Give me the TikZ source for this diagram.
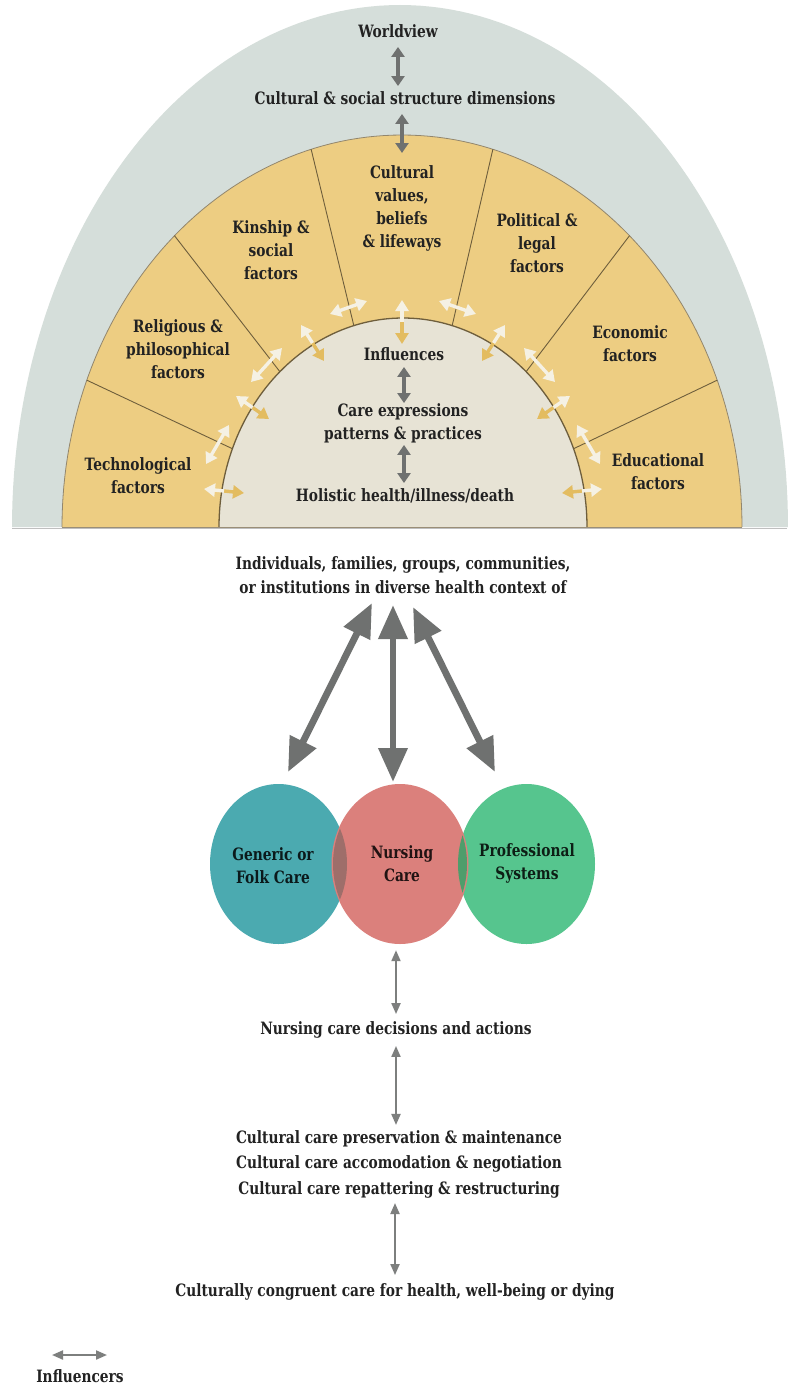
\documentclass[tikz,border=0pt]{standalone}
\usepackage{fontspec}
\setmainfont{DejaVu Serif}[FakeStretch=0.81]
\usetikzlibrary{arrows.meta,calc,shapes.geometric}
\definecolor{outerg}{HTML}{D5DEDA}
\definecolor{band}{HTML}{EDCD82}
\definecolor{core}{HTML}{E7E3D5}
\definecolor{bandline}{HTML}{6E5E3C}
\definecolor{arrg}{HTML}{6F7170}
\definecolor{lite}{HTML}{F5F1E4}
\definecolor{gold}{HTML}{E3BC60}
\definecolor{cteal}{HTML}{4BAAB0}
\definecolor{cred}{HTML}{DB807C}
\definecolor{cgreen}{HTML}{56C58E}
\definecolor{ovtr}{HTML}{9E6E6A}
\definecolor{ovrg}{HTML}{4F9D6B}
\definecolor{txt}{HTML}{222222}
\begin{document}
\begin{tikzpicture}[x=1pt,y=-1pt,
  lbl/.style={font=\bfseries\fontsize{17}{23}\selectfont, text=txt, align=center, inner sep=0pt},
  one/.style={lbl, text height=12pt, text depth=3.5pt},
  darr/.style={draw=arrg, line width=3.6pt, {Triangle[length=10pt,width=13pt]}-{Triangle[length=10pt,width=13pt]}},
  larr/.style={draw=arrg!90, line width=2pt, {Triangle[length=11pt,width=9pt]}-{Triangle[length=11pt,width=9pt]}},
  bigarr/.style={draw=arrg, line width=6.8pt, {Triangle[length=34pt,width=28pt]}-{Triangle[length=34pt,width=28pt]}},
  ltan/.style={draw=lite, line width=3.4pt, {Triangle[length=11pt,width=13pt]}-{Triangle[length=11pt,width=13pt]}},
  lout/.style={draw=lite, line width=3.4pt, -{Triangle[length=11pt,width=13pt]}},
  lin/.style={draw=gold, line width=3.4pt, -{Triangle[length=11pt,width=13pt]}},
  blob/.style={ellipse, minimum width=137pt, minimum height=160pt, inner sep=0pt}
]
\useasboundingbox (0,0) rectangle (787,1389);
\fill[white] (0,0) rectangle (787,1389);

% outer worldview dome
\fill[outerg] plot[domain=0:180,samples=121] ({400+388*cos(\x)},{527-522*sin(\x)}) -- cycle;
% yellow band
\fill[band] plot[domain=0:180,samples=121] ({402+340*cos(\x)},{527-392*sin(\x)}) -- cycle;
\draw[bandline!75, line width=0.8pt] plot[domain=0:180,samples=121] ({402+340*cos(\x)},{527-392*sin(\x)});
% core
\fill[core] plot[domain=0:180,samples=121] ({403+184*cos(\x)},{527-209*sin(\x)}) -- cycle;
\draw[bandline, line width=1.3pt] plot[domain=0:180,samples=121] ({403+184*cos(\x)},{527-209*sin(\x)});
% dividers
\foreach \t in {158,132,105.5,74.5,48,22}
  \draw[bandline, line width=0.9pt] ({403+184*cos(\t)},{527-209*sin(\t)}) -- ({402+340*cos(\t)},{527-392*sin(\t)});
\draw[bandline!70, line width=0.9pt] (62,527) -- (742,527);
\draw[black!25, line width=0.8pt] (12,528) -- (787,528);

% texts of the dome
\node[one] (wv) at (398,33) {Worldview};
\node[one] (csd) at (405,100) {Cultural \& social structure dimensions};
\node[lbl] (cv) at (402,208) {Cultural\\values,\\beliefs\\\& lifeways};
\node[lbl] (kin) at (271,250) {Kinship \&\\social\\factors};
\node[lbl] (pol) at (537,243) {Political \&\\legal\\factors};
\node[lbl] (rel) at (178,349) {Religious \&\\philosophical\\factors};
\node[lbl] (eco) at (630,344) {Economic\\factors};
\node[lbl] (tech) at (138,476) {Technological\\factors};
\node[lbl] (edu) at (658,472) {Educational\\factors};
\node[one] (infl) at (404,356) {Influences};
\node[lbl] (care) at (403,423) {Care expressions\\patterns \& practices};
\node[one] (hol) at (405,497) {Holistic health/illness/death};

\coordinate (cvt) at (402,153);
\draw[darr, shorten <=6pt, shorten >=6pt] (wv) -- (wv |- csd.north);
\draw[darr, shorten <=6pt] (cvt |- csd.south) -- (cvt);
\draw[darr, shorten <=3pt, shorten >=0pt] (infl) -- (infl |- care.north);
\draw[darr, shorten <=2pt, shorten >=6pt] (care.south -| infl) -- (infl |- hol.north);

% light influence arrows: radial (outer -> inner)
\foreach \ox/\oy/\ix/\iy in {204/489/244/493, 236/396/269/419, 301/325/324/361, 402/300/402/344, 505/325/482/361, 570/396/537/419, 602/489/562/493}{
  \coordinate (o) at (\ox,\oy);
  \coordinate (i) at (\ix,\iy);
  \coordinate (m) at ($(o)!0.5!(i)$);
  \draw[lin] (m) -- (i);
  \draw[lout] (m) -- (o);
}
% light tangential arrows across dividers
\foreach \ax/\ay/\bx/\by in {206/464/229/425, 251/382/282/348, 330/314/367/301, 439/301/476/314, 555/382/524/348, 600/464/577/425}{
  \coordinate (ta) at (\ax,\ay);
  \coordinate (tb) at (\bx,\by);
  \draw[ltan] (ta) -- (tb);
}

% individuals text
\node[lbl, font=\bfseries\fontsize{17}{24}\selectfont] (ind) at (403,575) {Individuals, families, groups, communities,\\or institutions in diverse health context of};

% circles
\node[blob, fill=cteal] (folk) at (278.5,864) {};
\node[blob, fill=cgreen] (prof) at (526.5,864) {};
\node[blob, fill=cred] (nurse) at (400,864) {};
\begin{scope}
  \clip (278.5,864) ellipse[x radius=68.5, y radius=80];
  \fill[ovtr] (400,864) ellipse[x radius=67, y radius=80];
\end{scope}
\begin{scope}
  \clip (526.5,864) ellipse[x radius=68.5, y radius=80];
  \fill[ovrg] (400,864) ellipse[x radius=67, y radius=80];
\end{scope}
\node[lbl, text=black!85!cteal] (folkt) at (273,866) {Generic or\\Folk Care};
\node[lbl, text=black!85!cred] (nurset) at (402,864) {Nursing\\Care};
\node[lbl, text=black!85!cgreen] (proft) at (527,863) {Professional\\Systems};

% big arrows
\coordinate (t1) at (372,603); \coordinate (b1) at (288,772);
\coordinate (t2) at (393,605); \coordinate (b2) at (393,782);
\coordinate (t3) at (413,607); \coordinate (b3) at (495,772);
\draw[bigarr] (t1) -- (b1);
\draw[bigarr] (t2) -- (b2);
\draw[bigarr] (t3) -- (b3);

% lower chain
\node[one] (ncd) at (396,1030) {Nursing care decisions and actions};
\node[lbl, font=\bfseries\fontsize{17}{25.5}\selectfont] (ccp) at (399,1164) {Cultural care preservation \& maintenance\\Cultural care accomodation \& negotiation\\Cultural care repattering \& restructuring};
\node[one] (ccc) at (395,1292) {Culturally congruent care for health, well-being or dying};

\draw[larr, shorten <=6pt, shorten >=8pt] (nurse.south -| ncd) -- (ncd.north);
\draw[larr, shorten <=8pt, shorten >=5pt] (ncd.south) -- (ccp.north -| ncd);
\draw[larr, shorten <=5pt, shorten >=9pt] (ccp.south -| ccc) -- (ccc.north);

% legend
\coordinate (lg1) at (52,1355); \coordinate (lg2) at (107,1355);
\draw[larr] (lg1) -- (lg2);
\node[one] (lgt) at (80,1378) {Influencers};
\end{tikzpicture}
\end{document}
